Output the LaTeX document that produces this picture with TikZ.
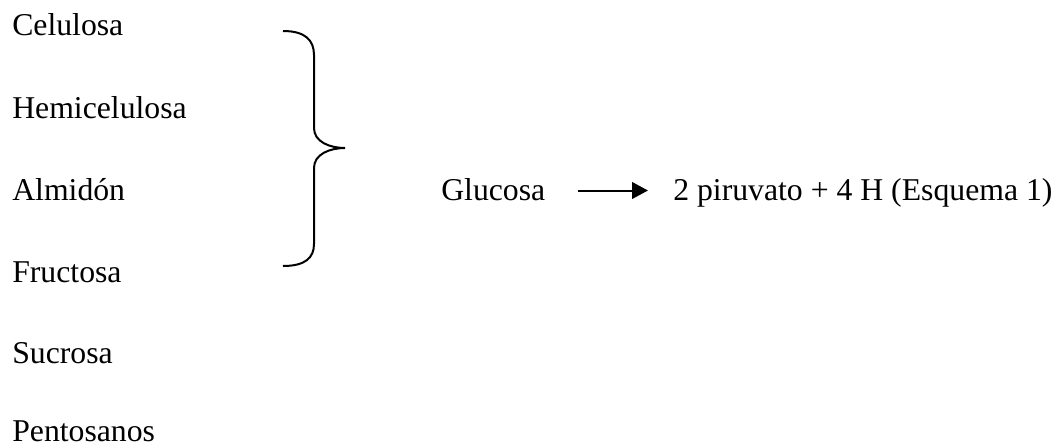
\documentclass[tikz,border=0pt]{standalone}
\usepackage{fontspec}
\setmainfont{Liberation Serif}
\usetikzlibrary{arrows.meta}
\begin{document}
\begin{tikzpicture}[x=0.75pt,y=-0.75pt,
  lbl/.style={anchor=base west,inner sep=0pt,font=\fontsize{23.8pt}{28pt}\selectfont},
  brace/.style={line width=1.5pt},
  rxn/.style={line width=1.5pt,-{Triangle[length=12pt,width=12.5pt]}}]
\useasboundingbox (0,0) rectangle (1057,446);
\node[lbl] (cel) at (12,35) {Celulosa};
\node[lbl] (hem) at (12,118) {Hemicelulosa};
\node[lbl] (alm) at (12,200) {Almidón};
\node[lbl] (fru) at (12,282) {Fructosa};
\node[lbl] (suc) at (12,363) {Sucrosa};
\node[lbl] (pen) at (12,441) {Pentosanos};
\node[lbl] (glu) at (441,200) {Glucosa};
\node[lbl] (pro) at (673,200) {2 piruvato + 4 H (Esquema 1)};
\coordinate (bt) at (283,31);
\coordinate (bb) at (283,266);
\coordinate (tip) at (345,148);
\draw[brace] (bt) .. controls (305,31) and (314,40) .. (314,55)
  -- (314,128) .. controls (314,142) and (330,148) .. (tip)
  .. controls (330,148) and (314,154) .. (314,168)
  -- (314,244) .. controls (314,258) and (305,266) .. (bb);
\coordinate (a1) at (578,190.5);
\coordinate (a2) at (648,190.5);
\draw[rxn] (a1) -- (a2);
\end{tikzpicture}
\end{document}
